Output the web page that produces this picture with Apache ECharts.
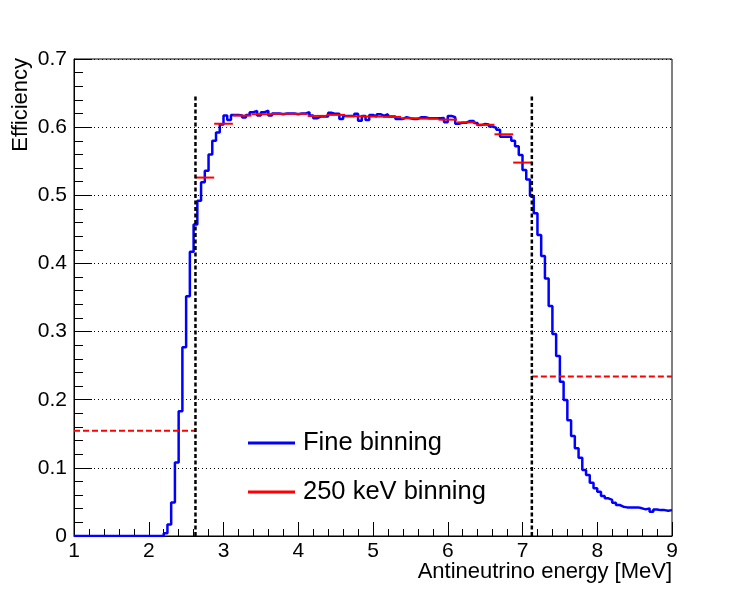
<!DOCTYPE html>
<html>
<head>
<meta charset="utf-8">
<script src="https://cdn.jsdelivr.net/npm/echarts@6/dist/echarts.min.js"></script>
<style>
html,body{margin:0;padding:0;background:#fff;}
#chart{width:747px;height:595px;}
</style>
</head>
<body>
<div id="chart"></div>
<script>
// ---- Data ----
var fineBinStart = 1.0;
var fineBinWidth = 0.05;
// Fine binning efficiency (160 bins, 1.00 .. 9.00 MeV)
var fineValues = [
  0,0,0,0,0,0,0,0,0,0,
  0,0,0,0,0,0,0,0,0,0,
  0,0,0,0,0.004,0.017,0.049,0.108,0.183,0.277,
  0.352,0.417,0.457,0.492,0.519,0.536,0.560,0.580,0.592,0.604,
  0.617,0.6105,0.618,0.618,0.617,0.614,0.618,0.622,0.6237,0.617,
  0.622,0.624,0.617,0.620,0.620,0.619,0.620,0.620,0.620,0.619,
  0.620,0.620,0.6218,0.617,0.613,0.6155,0.6155,0.6155,0.621,0.6195,
  0.6195,0.612,0.6165,0.6165,0.6165,0.6195,0.6095,0.6165,0.6105,0.6178,
  0.6155,0.619,0.6165,0.619,0.6155,0.6155,0.612,0.612,0.6145,0.613,
  0.612,0.612,0.6145,0.6145,0.613,0.613,0.613,0.613,0.6135,0.607,
  0.6165,0.6145,0.605,0.6066,0.6066,0.609,0.609,0.606,0.603,0.6045,
  0.604,0.601,0.599,0.596,0.586,0.586,0.586,0.580,0.572,0.559,
  0.537,0.523,0.499,0.4735,0.4417,0.411,0.378,0.3375,0.2965,0.264,
  0.2265,0.1996,0.170,0.1468,0.1287,0.115,0.0969,0.0895,0.0783,0.070,
  0.065,0.0587,0.0553,0.053,0.0489,0.0455,0.043,0.042,0.042,0.042,
  0.042,0.0406,0.039,0.0406,0.0357,0.039,0.038,0.038,0.037,0.038
];
// 250 keV binning
var coarseEdges = [2.625,2.875,3.125,3.375,3.625,3.875,4.125,4.375,4.625,4.875,
                   5.125,5.375,5.625,5.875,6.125,6.375,6.625,6.875,7.125];
var coarseValues = [0.526,0.605,0.617,0.619,0.6195,0.6195,0.6165,0.618,0.616,0.6155,
                    0.615,0.613,0.6125,0.611,0.607,0.6035,0.5895,0.548];
// Under/overflow of the coarse binning (dashed)
var underflow = [1.0, 2.625, 0.1545];
var overflow  = [7.125, 9.0, 0.234];
// Vertical dashed lines (x position, y bottom, y top)
var cutLines = [[2.625, 0, 0.646],[7.125, 0, 0.646]];
var xTicks = [1,2,3,4,5,6,7,8,9];
var yTicks = [0,0.1,0.2,0.3,0.4,0.5,0.6,0.7];

// ---- Build ----
var fineData = [];
for (var i = 0; i < fineValues.length; i++) {
  var lo = fineBinStart + i * fineBinWidth;
  var hi = fineBinStart + (i + 1) * fineBinWidth;
  fineData.push([+lo.toFixed(4), fineValues[i]]);
  fineData.push([+hi.toFixed(4), fineValues[i]]);
}
var coarseData = [];
for (var j = 0; j < coarseValues.length; j++) {
  coarseData.push([coarseEdges[j], coarseEdges[j+1], coarseValues[j]]);
}

var FONT = '"Liberation Sans", Arial, Helvetica, sans-serif';

function hSeg(color, width, dash) {
  return function (params, api) {
    var p1 = api.coord([api.value(0), api.value(2)]);
    var p2 = api.coord([api.value(1), api.value(2)]);
    return {
      type: 'line',
      shape: {x1: p1[0], y1: p1[1], x2: p2[0], y2: p2[1]},
      style: {stroke: color, lineWidth: width, lineDash: dash || null}
    };
  };
}

var chart = echarts.init(document.getElementById('chart'), null, {renderer: 'canvas'});
chart.setOption({
  animation: false,
  backgroundColor: '#fff',
  grid: {left: 74, right: 75, top: 59, bottom: 59, show: true,
         borderColor: '#000', borderWidth: 1, backgroundColor: 'transparent'},
  xAxis: {
    type: 'value', min: xTicks[0], max: xTicks[xTicks.length-1], interval: 1,
    axisLine: {onZero: false, lineStyle: {color: '#000', width: 1}},
    axisTick: {inside: true, length: 14, lineStyle: {color: '#000', width: 1}},
    minorTick: {show: true, splitNumber: 5, length: 7, lineStyle: {color: '#000', width: 1}},
    axisLabel: {color: '#000', fontSize: 21, fontFamily: FONT, margin: 5},
    splitLine: {show: false}
  },
  yAxis: {
    type: 'value', min: yTicks[0], max: yTicks[yTicks.length-1], interval: 0.1,
    axisLine: {onZero: false, lineStyle: {color: '#000', width: 1}},
    axisTick: {inside: true, length: 18, lineStyle: {color: '#000', width: 1}},
    minorTick: {show: true, splitNumber: 5, length: 9, lineStyle: {color: '#000', width: 1}},
    axisLabel: {color: '#000', fontSize: 21, fontFamily: FONT, margin: 7,
                formatter: function (v) { return v === 0 ? '0' : v.toFixed(1); }},
    splitLine: {show: true, lineStyle: {color: '#000', width: 1, type: [1, 3]}}
  },
  legend: {
    data: ['Fine binning', '250 keV binning'],
    orient: 'vertical', left: 243, top: 425,
    itemWidth: 47, itemHeight: 3, itemGap: 23, icon: 'rect',
    textStyle: {color: '#000', fontSize: 25.5, fontFamily: FONT, lineHeight: 25, padding: [0,0,0,3]}
  },
  graphic: [
    {type: 'text', right: 75, top: 561,
     style: {text: 'Antineutrino energy [MeV]', font: '22px ' + FONT, fill: '#000'}},
    {type: 'text', x: 21, y: 58, rotation: Math.PI / 2,
     style: {text: 'Efficiency', font: '22px ' + FONT, fill: '#000', align: 'right', verticalAlign: 'middle'}}
  ],
  series: [
    {
      name: 'Fine binning', type: 'line', data: fineData,
      showSymbol: false, symbol: 'none', color: '#0000ff',
      lineStyle: {color: '#0000ff', width: 2.5}, itemStyle: {color: '#0000ff'},
      z: 3
    },
    {
      name: '250 keV binning', type: 'custom', data: coarseData,
      encode: {x: [0, 1], y: 2}, color: '#ff0000', itemStyle: {color: '#ff0000'},
      renderItem: hSeg('#ff0000', 2), z: 4
    },
    {
      name: 'overflow', type: 'custom', data: [underflow, overflow],
      encode: {x: [0, 1], y: 2},
      renderItem: hSeg('#ff0000', 2, [6, 3]), z: 4
    },
    {
      name: 'cuts', type: 'custom', data: cutLines,
      encode: {x: 0, y: [1, 2]},
      renderItem: function (params, api) {
        var p1 = api.coord([api.value(0), api.value(1)]);
        var p2 = api.coord([api.value(0), api.value(2)]);
        return {type: 'line', shape: {x1: p1[0], y1: p1[1], x2: p2[0], y2: p2[1]},
                style: {stroke: '#000', lineWidth: 2.5, lineDash: [4, 2.5]}};
      },
      z: 5
    }
  ]
});
</script>
</body>
</html>
